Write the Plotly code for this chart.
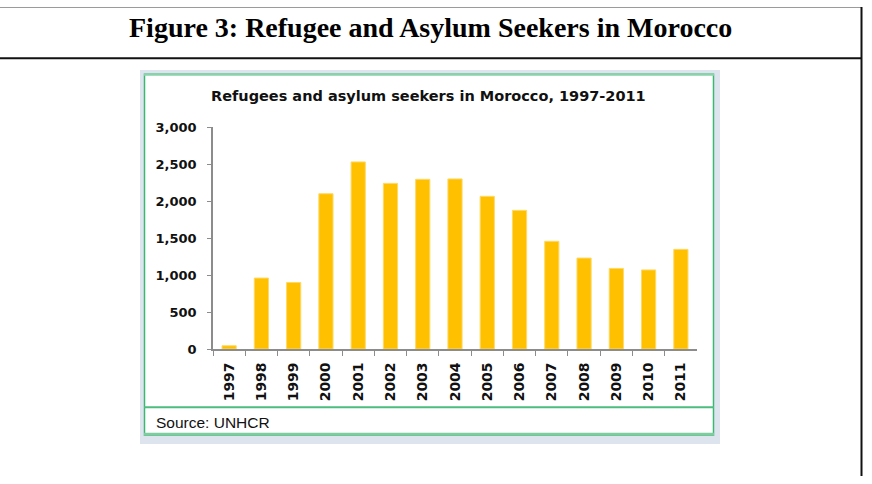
import plotly.graph_objects as go

years = ["1997", "1998", "1999", "2000", "2001", "2002", "2003", "2004",
         "2005", "2006", "2007", "2008", "2009", "2010", "2011"]
refugees = [45, 960, 900, 2100, 2530, 2240, 2295, 2300,
            2065, 1875, 1457, 1230, 1090, 1070, 1348]
y_ticks = [0, 500, 1000, 1500, 2000, 2500, 3000]
y_tick_labels = ["0", "500", "1,000", "1,500", "2,000", "2,500", "3,000"]

W, H = 872, 484


def px(x):
    return x / W


def py(y):
    return 1 - y / H


fig = go.Figure()
fig.add_trace(go.Bar(
    x=years, y=refugees,
    marker=dict(color="#FFC000", line=dict(color="#FFD966", width=1)),
    hoverinfo="x+y",
))

P = dict(xref="paper", yref="paper")
shapes = [
    # page-like frame
    dict(type="line", x0=px(0), x1=px(862), y0=py(0.5), y1=py(0.5),
         line=dict(color="#9a9a9a", width=1), layer="above", **P),
    dict(type="line", x0=px(0), x1=px(862), y0=py(53), y1=py(53),
         line=dict(color="#111111", width=2), layer="above", **P),
    dict(type="line", x0=px(861.5), x1=px(861.5), y0=py(0), y1=py(484),
         line=dict(color="#111111", width=2), layer="above", **P),
    # chart panel
    dict(type="rect", x0=px(140), x1=px(720), y0=py(451), y1=py(65),
         fillcolor="#dde4ee", line=dict(width=0), layer="below", **P),
    dict(type="rect", x0=px(144.5), x1=px(713.5), y0=py(442), y1=py(69.5),
         fillcolor="#ffffff", line=dict(color="#3cb772", width=1.5), layer="below", **P),
    dict(type="line", x0=px(144), x1=px(714), y0=py(70), y1=py(70),
         line=dict(color="#8ad2aa", width=2), layer="above", **P),
    dict(type="line", x0=px(144), x1=px(714), y0=py(413), y1=py(413),
         line=dict(color="#4dbd7e", width=2), layer="above", **P),
    dict(type="line", x0=px(144), x1=px(714), y0=py(441), y1=py(441),
         line=dict(color="#7fcca0", width=3), layer="above", **P),
]

annotations = [
    dict(text="<b>Figure 3: Refugee and Asylum Seekers in Morocco</b>",
         x=px(430), y=py(21), xref="paper", yref="paper", showarrow=False,
         xanchor="center", yanchor="middle",
         font=dict(family="Liberation Serif", size=28, color="#000000")),
    dict(text="<b>Refugees and asylum seekers in Morocco, 1997-2011</b>",
         x=px(428), y=py(92), xref="paper", yref="paper", showarrow=False,
         xanchor="center", yanchor="middle",
         font=dict(family="DejaVu Sans", size=14.5, color="#111111")),
    dict(text="Source: UNHCR",
         x=px(154), y=py(429), xref="paper", yref="paper", showarrow=False,
         xanchor="left", yanchor="middle",
         font=dict(family="Liberation Sans", size=15.5, color="#111111")),
]

fig.update_layout(
    width=W, height=H,
    margin=dict(l=0, r=0, t=0, b=0),
    paper_bgcolor="#ffffff", plot_bgcolor="rgba(0,0,0,0)",
    showlegend=False,
    bargap=0.56,
    shapes=shapes,
    annotations=annotations,
    xaxis=dict(
        domain=[px(213), px(697)],
        type="category",
        showline=True, linecolor="#8c8c8c", linewidth=1.5,
        ticks="outside", tickson="boundaries", ticklen=5, tickcolor="#8c8c8c",
        tickangle=-90,
        ticklabelstandoff=6,
        tickfont=dict(family="DejaVu Sans", size=14, color="#111111"),
        showgrid=False, zeroline=False,
    ),
    yaxis=dict(
        domain=[py(353), py(124)],
        range=[0, 3000],
        tickvals=y_ticks, ticktext=["<b>%s</b>" % t for t in y_tick_labels],
        showline=True, linecolor="#8c8c8c", linewidth=1.5,
        ticks="outside", ticklen=4, tickcolor="#8c8c8c",
        ticklabelstandoff=8,
        tickfont=dict(family="DejaVu Sans", size=13, color="#111111"),
        showgrid=False, zeroline=False,
    ),
)
fig.update_xaxes(ticktext=["<b>%s</b>" % y for y in years], tickvals=years)

fig.write_html("out.html")
